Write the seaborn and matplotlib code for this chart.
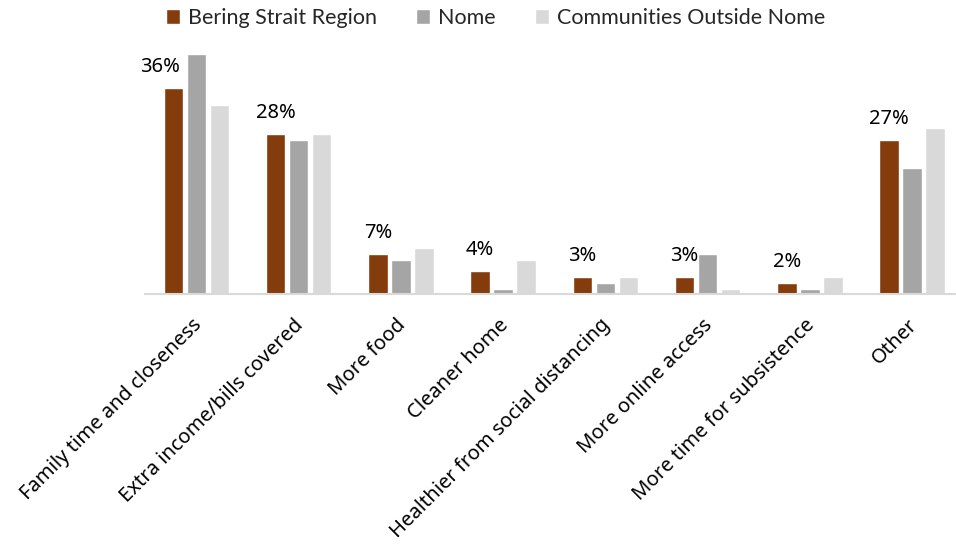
import matplotlib
matplotlib.use("Agg")
import matplotlib.pyplot as plt
import matplotlib.transforms as mtransforms
import seaborn as sns
import pandas as pd

categories = ["Family time and closeness", "Extra income/bills covered", "More food",
              "Cleaner home", "Healthier from social distancing", "More online access",
              "More time for subsistence", "Other"]
series = ["Bering Strait Region", "Nome", "Communities Outside Nome"]
bering = [36, 28, 7, 4, 3, 3, 2, 27]
nome = [42, 27, 6, 1, 2, 7, 1, 22]
outside = [33, 28, 8, 6, 3, 1, 3, 29]
colors = ["#843C0C", "#A5A5A5", "#D9D9D9"]

rows = []
for name, vals in zip(series, [bering, nome, outside]):
    for c, v in zip(categories, vals):
        rows.append({"category": c, "series": name, "value": v})
df = pd.DataFrame(rows)

sns.set_theme(style="white")
plt.rcParams["font.family"] = ["Noto Sans", "DejaVu Sans"]

fig = plt.figure(figsize=(9.56, 5.5), dpi=100)
ax = fig.add_axes([0.152, 0.465, 0.848, 0.462])

sns.barplot(data=df, x="category", y="value", hue="series", palette=colors,
            order=categories, hue_order=series, width=0.675, gap=0.15,
            ax=ax, saturation=1, legend=True)

ax.set_ylim(0, 44.4)
ax.set_xlim(-0.5, 7.43)
ax.set_xlabel("")
ax.set_ylabel("")
ax.set_yticks([])
for s in ["top", "right", "left"]:
    ax.spines[s].set_visible(False)
ax.spines["bottom"].set_color("#D9D9D9")
ax.spines["bottom"].set_linewidth(1.5)
ax.tick_params(axis="x", length=0, pad=15)
ax.set_xticks(range(len(categories)))
ax.set_xticklabels(categories, rotation=45, ha="right", rotation_mode="anchor",
                   fontsize=14.5, color="#000000")
shift = mtransforms.ScaledTranslation(-5 / 100, 0, fig.dpi_scale_trans)
for lab in ax.get_xticklabels():
    lab.set_transform(lab.get_transform() + shift)

# data labels on the first series
first = ax.containers[0]
for i, (bar, v) in enumerate(zip(first, bering)):
    dx = -10 if i == 0 else 0
    ax.annotate(f"{v}%", (bar.get_x() + bar.get_width() / 2, bar.get_height()),
                xytext=(dx, 8), textcoords="offset points", ha="center", va="bottom",
                fontsize=14.5, color="#000000")

leg = ax.legend(loc="center", bbox_to_anchor=(0.432, 1.087), ncol=3, frameon=False,
                handlelength=0.65, handleheight=0.65, handletextpad=0.35, columnspacing=1.85,
                prop={"family": ["Lato", "DejaVu Sans"], "size": 15.5})

fig.savefig("out.png", dpi=100)
